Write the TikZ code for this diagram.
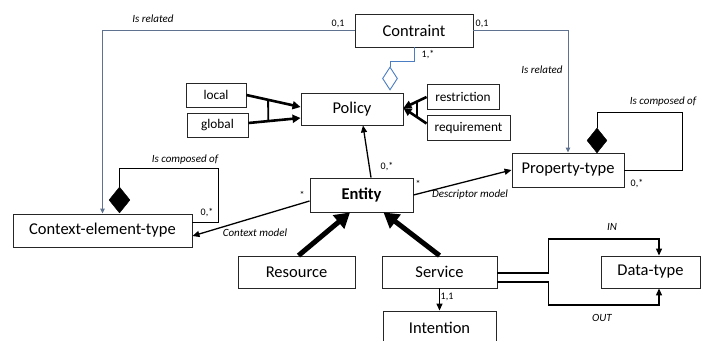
\documentclass[tikz,border=0pt]{standalone}
\usepackage{fontspec}
\setmainfont{Carlito}
\usetikzlibrary{arrows.meta,calc,shapes.geometric}
\definecolor{relgray}{RGB}{95,115,145}
\definecolor{aggblue}{RGB}{75,125,195}

\begin{document}
\begin{tikzpicture}[x=1pt,y=-1pt,
 box/.style={draw=black!85,line width=0.9pt,inner sep=0pt,font=\fontsize{16.5}{19}\selectfont},
 smallbox/.style={box,font=\fontsize{13.3}{16}\selectfont},
 lbl/.style={font=\fontsize{11}{13}\selectfont\itshape,inner sep=0pt},
 mult/.style={font=\fontsize{10}{12}\selectfont,inner sep=0pt},
 assoc/.style={line width=1.3pt,-{Triangle[length=7pt,width=6pt]}},
 rel/.style={relgray,line width=1pt,-{Triangle[length=5pt,width=4.5pt]}},
 spec/.style={line width=2.6pt,-{Triangle[length=8pt,width=8pt]}},
 gen/.style={line width=5pt,-{Triangle[length=15pt,width=17pt]}},
 compdia/.style={diamond,draw,fill=black,inner sep=0pt,minimum width=21pt,minimum height=26pt}]

\useasboundingbox (0,0) rectangle (701,340);

% boxes
\node[box,minimum width=118pt,minimum height=33pt] (contraint) at (414,30.5) {Contraint};
\node[box,minimum width=102pt,minimum height=32pt] (policy) at (352,109) {Policy};
\node[smallbox,minimum width=60pt,minimum height=24pt] (local) at (216,95) {local};
\node[smallbox,minimum width=61pt,minimum height=24pt] (global) at (217.5,125) {global};
\node[smallbox,minimum width=72pt,minimum height=25pt] (restriction) at (463,96.5) {restriction};
\node[smallbox,minimum width=83pt,minimum height=25pt] (requirement) at (468.5,127.5) {requirement};
\node[box,minimum width=103pt,minimum height=34pt,font=\fontsize{16.5}{19}\selectfont\bfseries] (entity) at (361.5,195) {Entity};
\node[box,minimum width=112pt,minimum height=34pt] (property) at (568,170) {Property-type};
\node[box,minimum width=179pt,minimum height=33pt] (cet) at (102.5,230.5) {Context-element-type};
\node[box,minimum width=117pt,minimum height=32pt] (resource) at (296.5,272) {Resource};
\node[box,minimum width=115pt,minimum height=32pt] (service) at (439.5,272) {Service};
\node[box,minimum width=99pt,minimum height=32pt] (datatype) at (650.5,272) {Data-type};
\node[box,minimum width=113pt,minimum height=34pt] (intention) at (439.5,328) {Intention};

% diamonds
\node[diamond,draw=aggblue,line width=0.9pt,fill=white,inner sep=0pt,minimum width=15pt,minimum height=23pt] (aggr) at (390,78.5) {};
\node[compdia] (cetdia) at (119.5,200) {};
\node[compdia,minimum width=20pt,minimum height=25pt] (propdia) at (597,140.5) {};

% Contraint relations
\draw[rel] (contraint.west) -| (cet.north);
\draw[rel] (contraint.east) -| (property.north);
\draw[aggblue,line width=1pt] (contraint.south) -- ++(0,14) -| (aggr.north);
\node[lbl] (isrel1) at (153,19) {Is related};
\node[mult] (m01a) at (338,24) {0,1};
\node[mult] (m01b) at (482,24) {0,1};
\node[lbl] (isrel2) at (542,70) {Is related};
\node[mult] (m1s) at (428,55) {1,*};

% local / global
\coordinate (lp) at ([yshift=2pt]policy.west);
\coordinate (gp) at ([yshift=-9pt]policy.west);
\draw[spec] (local.east) -- (lp);
\draw[spec] ([yshift=2pt]global.east) -- (gp);
\draw[line width=1.8pt] ($(local.east)!0.4!(lp)$) -- ($([yshift=2pt]global.east)!0.38!(gp)$);

% restriction / requirement
\coordinate (rp) at ([yshift=1pt]policy.east);
\draw[spec] ([yshift=-0.5pt]restriction.west) -- (rp);
\draw[spec] ([yshift=4pt]requirement.west) -- (rp);
\draw[line width=1.8pt] ($([yshift=-0.5pt]restriction.west)!0.43!(rp)$) -- ($([yshift=4pt]requirement.west)!0.43!(rp)$);

% Entity associations
\draw[assoc] ([xshift=9.5pt]entity.north) -- ([xshift=11pt]policy.south);
\node[mult] (m0sa) at (387,167) {0,*};
\draw[assoc] (entity.east) -- (property.west);
\node[mult] (sa) at (418,184) {*};
\node[lbl] (descr) at (470,195) {Descriptor model};
\draw[assoc] ([yshift=-6pt]entity.west) -- ([yshift=-5.5pt]cet.east);
\node[mult] (sb) at (302,195) {*};
\node[lbl] (ctx) at (255,233) {Context model};

% composition loops
\draw[line width=1pt] ([yshift=8.5pt]cet.east) -- ++(26,0) -- ++(0,-54) -| (cetdia.north);
\node[lbl] (comp1) at (185,160) {Is composed of};
\node[mult] (m0sb) at (207,213) {0,*};
\draw[line width=1pt] (property.east) -- ++(58,0) -- ++(0,-58) -| (propdia.north);
\node[lbl] (comp2) at (663,102) {Is composed of};
\node[mult] (m0sc) at (637,184) {0,*};

% specialisations of Entity
\draw[gen] ([xshift=2pt]resource.north) -- ([xshift=-11.5pt]entity.south);
\draw[gen] (service.north) -- ([xshift=22pt]entity.south);

% Service
\draw[assoc] (service.south) -- (intention.north);
\node[mult] (m11) at (447,297) {1,1};
\draw[assoc] ([yshift=-1pt]service.east) -- ++(51,0) -- ++(0,-34) -| ([xshift=8.5pt]datatype.north);
\draw[assoc] ([yshift=-10pt]service.east) -- ++(51,0) -- ++(0,23) -| ([xshift=8.5pt]datatype.south);
\node[lbl] (in) at (612,227) {IN};
\node[lbl] (out) at (602,318) {OUT};
\end{tikzpicture}
\end{document}
